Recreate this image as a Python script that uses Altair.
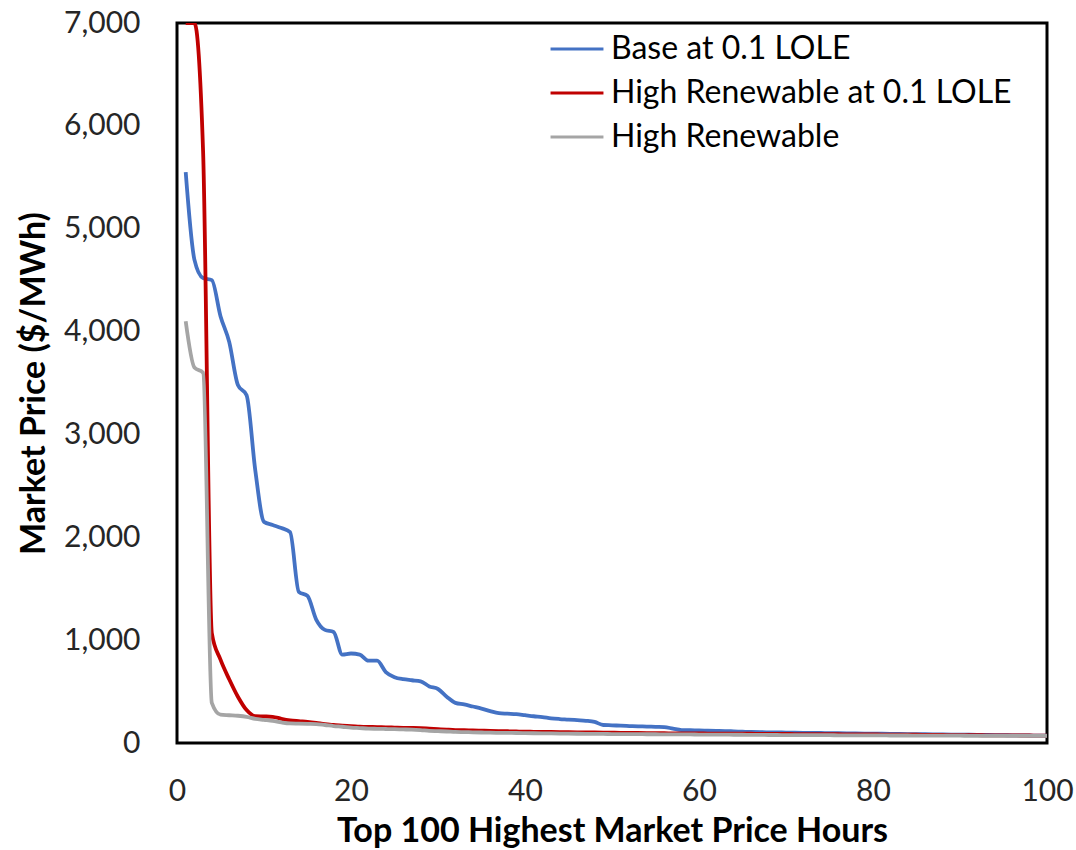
import altair as alt
import pandas as pd

hours = list(range(1, 101))

base_lole = [5550, 4700, 4520, 4500, 4150, 3900, 3480, 3380, 2650, 2150,
             2120, 2090, 2050, 1470, 1430, 1200, 1100, 1080, 860, 870,
             860, 800, 800, 690, 640, 620, 610, 600, 550, 525,
             450, 390, 375, 355, 335, 310, 290, 285, 280, 270,
             260, 252, 240, 233, 228, 222, 216, 205, 175, 172,
             168, 165, 162, 160, 157, 155, 140, 126, 124, 122,
             120, 118, 116, 113, 110, 107, 105, 104, 103, 101,
             100, 99, 98, 97, 96, 95, 94, 93, 92, 91,
             90, 89, 88, 87, 86, 85, 84, 83, 82, 81,
             80, 79, 78, 77, 76, 75, 74, 73, 72, 72]

high_ren_lole = [7000, 7000, 5750, 1070, 810, 620, 450, 320, 260, 258,
                 255, 235, 220, 212, 205, 195, 183, 175, 168, 165,
                 160, 157, 155, 152, 150, 148, 147, 145, 140, 135,
                 130, 126, 125, 122, 120, 118, 116, 114, 112, 110,
                 109, 108, 107, 106, 105, 104, 103, 102, 101, 100,
                 99, 98, 97, 96, 95, 95, 94, 94, 93, 93,
                 92, 92, 91, 91, 90, 90, 89, 89, 88, 88,
                 87, 87, 86, 86, 85, 85, 84, 84, 83, 83,
                 82, 82, 81, 80, 80, 79, 78, 78, 77, 77,
                 76, 76, 75, 75, 74, 74, 73, 73, 72, 72]

high_ren = [4100, 3650, 3600, 390, 275, 270, 265, 255, 235, 225,
            215, 200, 190, 188, 186, 184, 175, 165, 158, 150,
            145, 140, 138, 136, 134, 132, 130, 125, 118, 115,
            112, 108, 106, 104, 102, 100, 99, 98, 97, 96,
            95, 94, 93, 92, 91, 90, 89, 88, 88, 87,
            87, 86, 86, 85, 85, 84, 84, 83, 83, 82,
            82, 81, 81, 80, 80, 79, 79, 78, 78, 77,
            77, 77, 76, 76, 76, 75, 75, 75, 74, 74,
            74, 73, 73, 73, 72, 72, 72, 71, 71, 71,
            70, 70, 70, 70, 70, 70, 70, 70, 70, 70]

series_names = ["Base at 0.1 LOLE", "High Renewable at 0.1 LOLE", "High Renewable"]
series_colors = ["#4472C4", "#C00000", "#A5A5A5"]
x_ticks = [0, 20, 40, 60, 80, 100]
y_ticks = [0, 1000, 2000, 3000, 4000, 5000, 6000, 7000]

rows = []
for name, vals in zip(series_names, [base_lole, high_ren_lole, high_ren]):
    for h, v in zip(hours, vals):
        rows.append({"hour": h, "price": v, "series": name})
df = pd.DataFrame(rows)

color = alt.Color(
    "series:N",
    scale=alt.Scale(domain=series_names, range=series_colors),
    legend=alt.Legend(
        title=None, orient="none", legendX=372, legendY=-2,
        symbolType="stroke", symbolSize=2800, symbolStrokeWidth=3,
        labelFont="Lato", labelFontSize=32, labelColor="#000000",
        labelOffset=6, rowPadding=0, labelLimit=700,
    ),
)

x = alt.X("hour:Q", scale=alt.Scale(domain=[0, 100], nice=False),
          axis=alt.Axis(values=x_ticks, title="Top 100 Highest Market Price Hours",
                        grid=False, ticks=False, domain=False, labelPadding=33, labelFlush=False,
                        labelFontSize=30, labelFont="Lato", labelColor="#262626",
                        titleFont="Lato", titleFontSize=34, titleFontWeight="bold",
                        titleColor="#000000", titlePadding=8))
y = alt.Y("price:Q", scale=alt.Scale(domain=[0, 7000], nice=False),
          axis=alt.Axis(values=y_ticks, format=",d",
                        title="Market Price ($/MWh)", grid=False, ticks=False, domain=False,
                        labelPadding=37, labelFontSize=30, labelFont="Lato", labelColor="#262626",
                        titleFont="Lato", titleFontSize=34, titleFontWeight="bold",
                        titleColor="#000000", titlePadding=12))

layers = []
for name in series_names:
    layers.append(
        alt.Chart(df).transform_filter(alt.datum.series == name)
        .mark_line(strokeWidth=3.8, interpolate="monotone", clip=True)
        .encode(x=x, y=y, color=color)
    )

chart = alt.layer(*layers).properties(
    width=870, height=720,
    autosize=alt.AutoSizeParams(type="none"),
    padding={"left": 177, "top": 23, "right": 29, "bottom": 107},
    background="white",
).configure_view(stroke="#000000", strokeWidth=3)

chart.save("out.html", embed_options={"renderer": "svg", "actions": False})
